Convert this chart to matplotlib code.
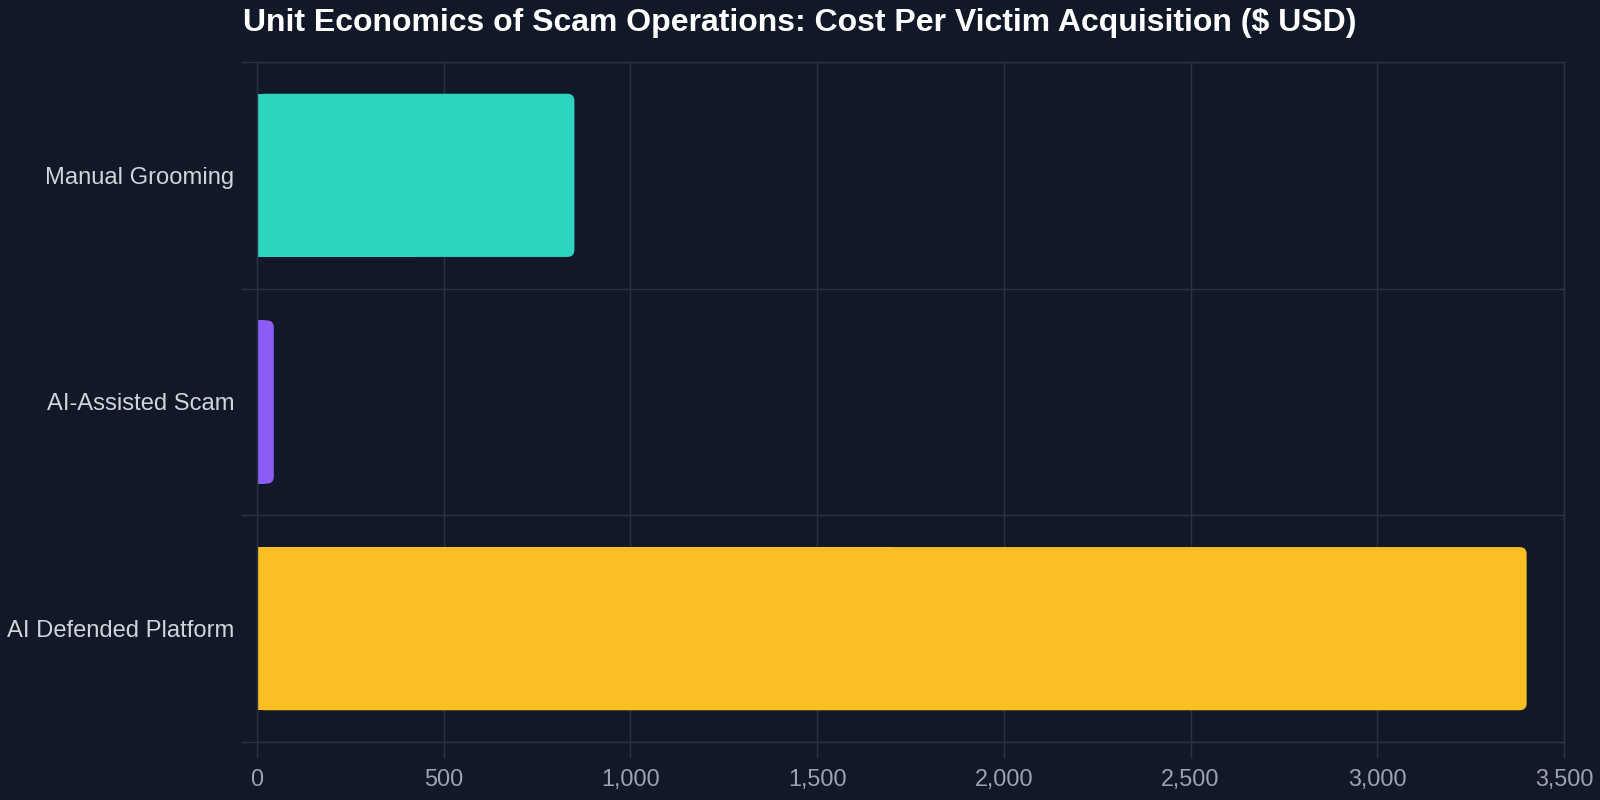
import matplotlib
matplotlib.use("Agg")
import matplotlib.pyplot as plt
from matplotlib.patches import FancyBboxPatch, Rectangle
from matplotlib.ticker import FuncFormatter

categories = ["Manual Grooming", "AI-Assisted Scam", "AI Defended Platform"]
costs = [850, 45, 3400]
colors = ["#2dd4bf", "#8b5cf6", "#fbbf24"]
x_ticks = [0, 500, 1000, 1500, 2000, 2500, 3000, 3500]
title = "Unit Economics of Scam Operations: Cost Per Victim Acquisition ($ USD)"

bg = "#111827"
grid_c = "#2b3241"

plt.rcParams['font.family'] = ['Liberation Sans', 'DejaVu Sans']

fig = plt.figure(figsize=(16, 8), dpi=100, facecolor=bg)
ax = fig.add_axes([257 / 1600, 58 / 800, 1307 / 1600, 680 / 800])
ax.set_facecolor(bg)

n = len(categories)
ax.set_xlim(x_ticks[0], x_ticks[-1])
ax.set_ylim(n - 0.5, -0.5)

# category labels in the middle of each band, lines on band edges
ax.set_yticks(range(n))
ax.set_yticklabels(categories)
ax.set_yticks([i - 0.5 for i in range(n + 1)], minor=True)
ax.set_xticks(x_ticks)
ax.xaxis.set_major_formatter(FuncFormatter(lambda v, p: f"{int(v):,}"))

ax.tick_params(axis="y", which="major", length=0, pad=22.5 * 0.72, labelsize=17.15, labelcolor="#d1d5db")
ax.tick_params(axis="y", which="minor", length=11.5, width=1, color=grid_c)
ax.tick_params(axis="x", which="major", length=11.5, width=1, color=grid_c, pad=7,
               labelsize=16.8, labelcolor="#9ca3af")

ax.grid(axis="x", which="major", color=grid_c, linewidth=1)
ax.grid(axis="y", which="minor", color=grid_c, linewidth=1)
ax.set_axisbelow(True)
for s in ax.spines.values():
    s.set_color(grid_c)
    s.set_linewidth(1)

# rounded right ends, radius in pixels converted to data units
h = 0.72
r_px = 7
rx = r_px * (x_ticks[-1] - x_ticks[0]) / ax.bbox.width
ry = r_px * n / ax.bbox.height
for i, (v, c) in enumerate(zip(costs, colors)):
    ax.add_patch(FancyBboxPatch((0, i - h / 2), v, h,
                                boxstyle=f"round,pad=0,rounding_size={rx}",
                                mutation_aspect=ry / rx, fc=c, ec="none", zorder=2))
    ax.add_patch(Rectangle((0, i - h / 2), v / 2, h, fc=c, ec="none", zorder=2))

fig.text(243 / 1600, 1 - 31 / 800, title, fontsize=23, fontweight="bold",
         color="white", va="baseline", ha="left")

fig.savefig("out.png", dpi=100, facecolor=bg)
